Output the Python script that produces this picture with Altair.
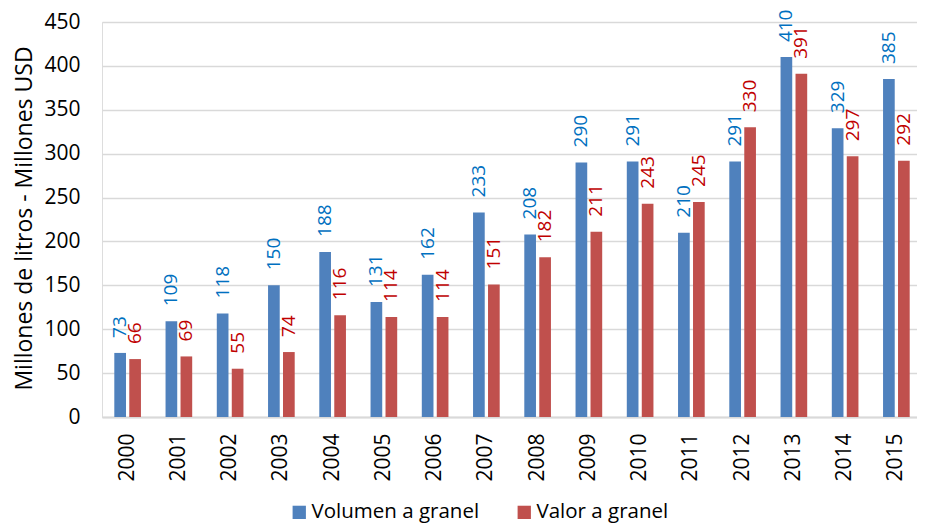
import altair as alt
import pandas as pd

years = ["2000", "2001", "2002", "2003", "2004", "2005", "2006", "2007",
         "2008", "2009", "2010", "2011", "2012", "2013", "2014", "2015"]
volumen = [73, 109, 118, 150, 188, 131, 162, 233, 208, 290, 291, 210, 291, 410, 329, 385]
valor = [66, 69, 55, 74, 116, 114, 114, 151, 182, 211, 243, 245, 330, 391, 297, 292]
series = ["Volumen a granel", "Valor a granel"]
bar_colors = ["#4F81BD", "#C0504D"]
label_colors = ["#0070C0", "#C00000"]
y_ticks = [0, 50, 100, 150, 200, 250, 300, 350, 400, 450]

rows = []
for s, vals, lc in zip(series, [volumen, valor], label_colors):
    for yr, v in zip(years, vals):
        rows.append({"year": yr, "series": s, "value": v, "lcolor": lc})
df = pd.DataFrame(rows)

FONT = "Open Sans"

x_enc = alt.X(
    "year:N",
    sort=years,
    scale=alt.Scale(paddingInner=0.48, paddingOuter=0.24, rangeMax=820),
    axis=alt.Axis(
        title=None, labelAngle=270, labelAlign="right", labelBaseline="middle",
        labelFontSize=21, labelPadding=16, ticks=False, grid=False,
        domainColor="#D9D9D9", domainWidth=2, labelColor="black", labelFont=FONT,
    ),
)
xoff = alt.XOffset("series:N", sort=series,
                   scale=alt.Scale(paddingInner=0.22, paddingOuter=0))
y_enc = alt.Y(
    "value:Q",
    scale=alt.Scale(domain=[0, 450]),
    axis=alt.Axis(
        values=y_ticks, title="Millones de litros - Millones USD",
        titleFontSize=23, titleFont=FONT, titleFontWeight="normal", titleColor="black",
        titleX=-78, titleY=196, titleAngle=270, titleAlign="center", titleBaseline="middle",
        labelFontSize=21, labelFont=FONT, labelColor="black", labelPadding=22,
        ticks=False, domain=False, gridColor="#D9D9D9", gridWidth=1.5,
    ),
)

bars = alt.Chart(df).mark_bar().encode(
    x=x_enc,
    xOffset=xoff,
    y=y_enc,
    color=alt.Color(
        "series:N", sort=series,
        scale=alt.Scale(domain=series, range=bar_colors),
        legend=alt.Legend(
            orient="none", legendX=187, legendY=480, direction="horizontal",
            title=None, labelFontSize=20.5, labelFont=FONT, labelColor="black",
            symbolType="square", symbolSize=177, symbolStrokeWidth=0,
            labelOffset=2, columnPadding=34, padding=0, labelLimit=400,
        ),
    ),
)

labels = alt.Chart(df).mark_text(
    angle=270, align="left", baseline="middle", dx=15, fontSize=19, font=FONT,
).encode(
    x=alt.X("year:N", sort=years),
    xOffset=alt.XOffset("series:N", sort=series),
    y=alt.Y("value:Q"),
    text=alt.Text("value:Q"),
    color=alt.Color("lcolor:N", scale=None, legend=None),
)

chart = alt.layer(bars, labels).resolve_scale(color="independent").properties(
    width=815,
    height=395,
    padding={"left": 94, "top": 14, "right": 0, "bottom": 106},
    autosize=alt.AutoSizeParams(type="none"),
).configure_view(stroke=None).configure(font=FONT, background="white")

chart.save("out.html", embed_options={"renderer": "svg", "actions": False})
